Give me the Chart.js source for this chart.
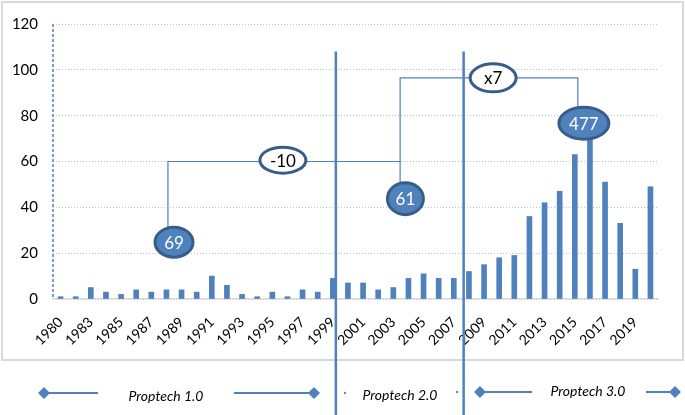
<!DOCTYPE html>
<html>
<head>
<meta charset="utf-8">
<script src="https://cdn.jsdelivr.net/npm/chart.js@4.4.0/dist/chart.umd.min.js"></script>
<style>
  body { margin: 0; background: #fff; }
  #wrap { width: 685px; height: 415px; }
</style>
</head>
<body>
<div id="wrap"><canvas id="chart" width="685" height="415"></canvas></div>
<script>
// data
const years = ['1980','1982','1983','1984','1985','1986','1987','1988','1989','1990',
               '1991','1992','1993','1994','1995','1996','1997','1998','1999','2000',
               '2001','2002','2003','2004','2005','2006','2007','2008','2009','2010',
               '2011','2012','2013','2014','2015','2016','2017','2018','2019','2020'];
const deals = [1,1,5,3,2,4,3,4,4,3,
               10,6,2,1,3,1,4,3,9,7,
               7,4,5,9,11,9,9,12,15,18,
               19,36,42,47,63,79,51,33,13,49];
const yTicks = [0,20,40,60,80,100,120];
const phases = ['Proptech 1.0','Proptech 2.0','Proptech 3.0'];
const phaseTotals = ['69','61','477'];
const phaseChanges = ['-10','x7'];

const blue = '#4F81BD';
const darkBlue = '#385D8A';

function bubble(ctx, cx, cy, rx, ry, text, filled) {
  ctx.beginPath();
  ctx.ellipse(cx, cy, rx, ry, 0, 0, Math.PI * 2);
  ctx.fillStyle = filled ? blue : '#fff';
  ctx.fill();
  ctx.lineWidth = 3;
  ctx.strokeStyle = darkBlue;
  ctx.stroke();
  ctx.fillStyle = filled ? '#fff' : '#000';
  ctx.font = '17px Lato';
  ctx.textAlign = 'center';
  ctx.textBaseline = 'middle';
  ctx.fillText(text, cx, cy + 1);
}

function diamond(ctx, x, y, r) {
  ctx.beginPath();
  ctx.moveTo(x, y - r); ctx.lineTo(x + r, y); ctx.lineTo(x, y + r); ctx.lineTo(x - r, y);
  ctx.closePath();
  ctx.fillStyle = blue;
  ctx.fill();
}

function hline(ctx, x1, x2, y) {
  ctx.beginPath(); ctx.moveTo(x1, y); ctx.lineTo(x2, y); ctx.stroke();
}

// overlay: frame, brackets, phase lines, bubbles and the phase legend
const overlay = {
  id: 'overlay',
  beforeDraw(chart) {
    const ctx = chart.ctx;
    ctx.save();
    ctx.strokeStyle = '#D9D9D9';
    ctx.lineWidth = 2;
    ctx.strokeRect(2, 2, 681, 358);
    ctx.restore();
  },
  afterDraw(chart) {
    const ctx = chart.ctx;
    const x = chart.scales.x, y = chart.scales.y;
    const area = chart.chartArea;
    ctx.save();

    // dashed value axis
    ctx.strokeStyle = blue;
    ctx.lineWidth = 1.5;
    ctx.setLineDash([3, 2]);
    ctx.beginPath();
    ctx.moveTo(area.left, area.top);
    ctx.lineTo(area.left, area.bottom);
    ctx.stroke();
    ctx.setLineDash([]);

    // brackets
    ctx.lineWidth = 1.2;
    ctx.beginPath();
    ctx.moveTo(x.getPixelForValue(7.1), y.getPixelForValue(30));
    ctx.lineTo(x.getPixelForValue(7.1), y.getPixelForValue(60));
    ctx.lineTo(x.getPixelForValue(22.45), y.getPixelForValue(60));
    ctx.moveTo(x.getPixelForValue(22.45), y.getPixelForValue(48));
    ctx.lineTo(x.getPixelForValue(22.45), y.getPixelForValue(96.5));
    ctx.lineTo(x.getPixelForValue(34.2), y.getPixelForValue(96.5));
    ctx.lineTo(x.getPixelForValue(34.2), y.getPixelForValue(80));
    ctx.stroke();

    // phase boundaries
    ctx.lineWidth = 2.5;
    [18.2, 26.65].forEach(v => {
      const px = x.getPixelForValue(v);
      ctx.beginPath();
      ctx.moveTo(px, y.getPixelForValue(108));
      ctx.lineTo(px, chart.height);
      ctx.stroke();
    });

    // bubbles
    bubble(ctx, x.getPixelForValue(7.5), y.getPixelForValue(24.8), 19, 15, phaseTotals[0], true);
    bubble(ctx, x.getPixelForValue(14.7), y.getPixelForValue(60.6), 23, 13, phaseChanges[0], false);
    bubble(ctx, x.getPixelForValue(22.8), y.getPixelForValue(43.8), 18, 16, phaseTotals[1], true);
    bubble(ctx, x.getPixelForValue(28.6), y.getPixelForValue(96.5), 23, 14, phaseChanges[1], false);
    bubble(ctx, x.getPixelForValue(34.6), y.getPixelForValue(76.7), 25, 16, phaseTotals[2], true);

    // phase legend below the chart
    ctx.strokeStyle = blue;
    ctx.lineWidth = 2;
    hline(ctx, 44, 98, 393);
    hline(ctx, 234, 314, 393);
    diamond(ctx, 44, 393, 6);
    diamond(ctx, 314, 393, 6);
    diamond(ctx, 345, 393, 1.5);
    diamond(ctx, 457, 392, 1.5);
    hline(ctx, 480, 532, 392);
    hline(ctx, 646, 675, 392);
    diamond(ctx, 480, 392, 6);
    diamond(ctx, 675, 392, 6);

    ctx.fillStyle = '#000';
    ctx.font = 'italic 14px Lato';
    ctx.textAlign = 'center';
    ctx.textBaseline = 'middle';
    ctx.fillText(phases[0], 166, 396);
    ctx.fillText(phases[1], 400, 395);
    ctx.fillText(phases[2], 588, 391);
    ctx.restore();
  }
};

Chart.defaults.font.family = 'Lato';
Chart.defaults.color = '#000';

new Chart(document.getElementById('chart'), {
  type: 'bar',
  data: {
    labels: years,
    datasets: [{
      data: deals,
      backgroundColor: blue,
      barThickness: 5
    }]
  },
  options: {
    responsive: false,
    animation: false,
    layout: { padding: { top: 21, right: 27, left: 0, bottom: 0 } },
    plugins: { legend: { display: false }, tooltip: { enabled: false } },
    scales: {
      x: {
        grid: { display: false, drawTicks: false },
        border: { color: '#D9D9D9', width: 1.5 },
        ticks: {
          autoSkip: false,
          minRotation: 45,
          maxRotation: 45,
          padding: 15,
          font: { size: 14 },
          callback: (v, i) => (i % 2 === 0 ? years[i] : '')
        },
        afterFit: s => { s.height = 116; }
      },
      y: {
        min: yTicks[0],
        max: yTicks[yTicks.length - 1],
        afterBuildTicks: s => { s.ticks = yTicks.map(v => ({ value: v })); },
        ticks: { font: { size: 15 }, padding: 15 },
        grid: { color: '#BFBFBF', drawTicks: false, lineWidth: 1 },
        border: { display: false, dash: [1, 2] },
        afterFit: s => { s.width = 53; }
      }
    }
  },
  plugins: [overlay]
});
</script>
</body>
</html>
